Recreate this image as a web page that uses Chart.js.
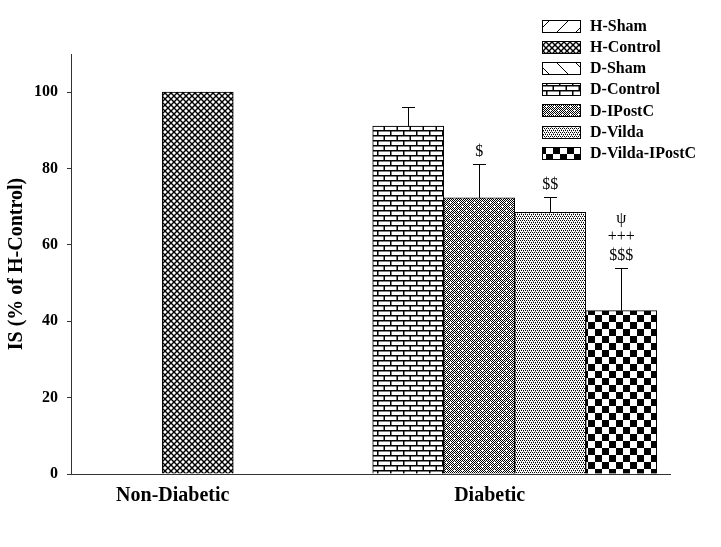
<!DOCTYPE html>
<html lang="en">
<head>
    <meta charset="UTF-8">
    <script src="https://cdn.jsdelivr.net/npm/chart.js"></script>
    <title>IS (% of H-Control)</title>
    <style>
        body { margin: 0; background: #fff; }
        canvas { display: block; }
    </style>
</head>
<body>
<canvas id="chart" width="721" height="547"></canvas>

<script>
    // groups on the x axis and the seven series of the legend
    const groups = ['Non-Diabetic', 'Diabetic'];
    const seriesNames = ['H-Sham', 'H-Control', 'D-Sham', 'D-Control', 'D-IPostC', 'D-Vilda', 'D-Vilda-IPostC'];

    // mean values (% of H-Control), one entry per group
    const hSham = [null, null];
    const hControl = [100, null];
    const dSham = [null, null];
    const dControl = [null, 91.1];
    const dIPostC = [null, 72.3];
    const dVilda = [null, 68.5];
    const dVildaIPostC = [null, 42.8];

    // upper error bars
    const hControlSd = [0, null];
    const dControlSd = [null, 5.0];
    const dIPostCSd = [null, 8.8];
    const dVildaSd = [null, 4.1];
    const dVildaIPostCSd = [null, 11.1];

    // significance marks above the error bars (top line first)
    const dIPostCMarks = [null, ['$']];
    const dVildaMarks = [null, ['$$']];
    const dVildaIPostCMarks = [null, ['\u03C8', '+++', '$$$']];

    const yTicks = [0, 20, 40, 60, 80, 100];

    const canvas = document.getElementById('chart');
    const ctx = canvas.getContext('2d');
    const serif = '"Liberation Serif", "Times New Roman", serif';

    // small tiles used as fill patterns
    function tile(w, h, draw) {
        const c = document.createElement('canvas');
        c.width = w;
        c.height = h;
        const g = c.getContext('2d');
        g.fillStyle = '#fff';
        g.fillRect(0, 0, w, h);
        g.fillStyle = '#000';
        g.strokeStyle = '#000';
        draw(g);
        return ctx.createPattern(c, 'repeat');
    }

    const slashPattern = tile(19, 19, g => {
        g.lineWidth = 1;
        for (const o of [-19, 0, 19]) {
            g.beginPath(); g.moveTo(o, 19); g.lineTo(o + 19, 0); g.stroke();
        }
    });
    const backslashPattern = tile(19, 19, g => {
        g.lineWidth = 1;
        for (const o of [-19, 0, 19]) {
            g.beginPath(); g.moveTo(o, 0); g.lineTo(o + 19, 19); g.stroke();
        }
    });
    const crossPattern = tile(6, 6, g => {
        g.lineWidth = 1.4;
        for (const o of [-6, 0, 6]) {
            g.beginPath(); g.moveTo(o, 0); g.lineTo(o + 6, 6); g.stroke();
            g.beginPath(); g.moveTo(o, 6); g.lineTo(o + 6, 0); g.stroke();
        }
    });
    const brickPattern = tile(13, 10, g => {
        g.fillRect(0, 0, 13, 1.5);
        g.fillRect(0, 5, 13, 1.5);
        g.fillRect(0, 0, 1.5, 5);
        g.fillRect(6.5, 5, 1.5, 5);
    });
    const darkDotPattern = tile(8, 8, g => {
        for (let x = 0; x < 8; x++) {
            for (let y = 0; y < 8; y++) {
                if ((x + y) % 2 === 0) g.fillRect(x, y, 1, 1);
            }
        }
        g.fillStyle = '#fff';
        g.fillRect(2, 1, 1, 3); g.fillRect(1, 2, 3, 1);
        g.fillRect(6, 5, 1, 3); g.fillRect(5, 6, 3, 1);
    });
    const lightDotPattern = tile(4, 4, g => {
        g.fillRect(0, 0, 1, 1); g.fillRect(2, 0, 1, 1);
        g.fillRect(1, 2, 1, 1); g.fillRect(3, 2, 1, 1);
        g.fillStyle = '#888';
        g.fillRect(1, 1, 1, 1); g.fillRect(3, 3, 1, 1);
    });
    const checkerPattern = tile(14, 14, g => {
        g.fillRect(0, 0, 7, 7);
        g.fillRect(7, 7, 7, 7);
    });

    const seriesValues = [hSham, hControl, dSham, dControl, dIPostC, dVilda, dVildaIPostC];
    const seriesSd = [null, hControlSd, null, dControlSd, dIPostCSd, dVildaSd, dVildaIPostCSd];
    const seriesMarks = [null, null, null, null, dIPostCMarks, dVildaMarks, dVildaIPostCMarks];
    const seriesFills = [slashPattern, crossPattern, backslashPattern, brickPattern,
        darkDotPattern, lightDotPattern, checkerPattern];

    const datasets = seriesNames.map((name, i) => ({
        label: name,
        data: seriesValues[i],
        sd: seriesSd[i],
        marks: seriesMarks[i],
        backgroundColor: seriesFills[i],
        borderColor: '#000',
        borderWidth: 1,
        borderSkipped: 'start',
    }));

    // error bars and the $ / + / psi marks
    const errorBars = {
        id: 'errorBars',
        afterDatasetsDraw(chart) {
            const c = chart.ctx;
            const y = chart.scales.y;
            c.save();
            c.strokeStyle = '#000';
            c.lineWidth = 1;
            c.fillStyle = '#000';
            c.font = '16px ' + serif;
            c.textAlign = 'center';
            c.textBaseline = 'middle';
            chart.data.datasets.forEach((ds, i) => {
                const meta = chart.getDatasetMeta(i);
                meta.data.forEach((bar, j) => {
                    const v = ds.data[j];
                    if (v === null || v === undefined) return;
                    const sd = ds.sd ? (ds.sd[j] || 0) : 0;
                    const x = Math.round(bar.x) + 0.5;
                    const top = Math.round(y.getPixelForValue(v + sd)) + 0.5;
                    if (sd > 0) {
                        c.beginPath();
                        c.moveTo(x, bar.y);
                        c.lineTo(x, top);
                        c.moveTo(x - 6.5, top);
                        c.lineTo(x + 6.5, top);
                        c.stroke();
                    }
                    const marks = ds.marks ? ds.marks[j] : null;
                    if (marks) {
                        marks.slice().reverse().forEach((m, k) => {
                            c.fillText(m, bar.x, top - 13 - k * 18.5);
                        });
                    }
                });
            });
            c.restore();
        }
    };

    // legend box in the upper right corner
    const patternLegend = {
        id: 'patternLegend',
        afterDraw(chart) {
            const c = chart.ctx;
            c.save();
            c.font = 'bold 16px ' + serif;
            c.textAlign = 'left';
            c.textBaseline = 'middle';
            chart.data.datasets.forEach((ds, i) => {
                const cy = 26 + i * 21.1;
                const top = Math.round(cy - 6) + 0.5;
                c.fillStyle = ds.backgroundColor;
                c.fillRect(542.5, top, 38, 12);
                c.strokeStyle = '#000';
                c.lineWidth = 1;
                c.strokeRect(542.5, top, 38, 12);
                c.fillStyle = '#000';
                c.fillText(ds.label, 590, cy + 1);
            });
            c.restore();
        }
    };

    new Chart(ctx, {
        type: 'bar',
        data: {
            labels: groups.map((g, i) => i),
            datasets: datasets,
        },
        options: {
            responsive: false,
            animation: false,
            barThickness: 71,
            skipNull: true,
            layout: {
                padding: { left: 0, right: 51, top: 54, bottom: 0 }
            },
            plugins: {
                legend: { display: false },
                tooltip: { enabled: false },
            },
            scales: {
                x: {
                    type: 'linear',
                    min: -0.4,
                    max: 1.49,
                    offset: false,
                    grid: { display: false, offset: false },
                    border: { display: true, color: '#333', width: 1 },
                    afterBuildTicks: (scale) => {
                        scale.ticks = groups.map((g, i) => ({ value: i }));
                    },
                    afterFit: (scale) => { scale.height = 73; },
                    ticks: {
                        autoSkip: false,
                        maxRotation: 0,
                        padding: 2,
                        labelOffset: -25,
                        color: '#000',
                        font: { family: serif, size: 20, weight: 'bold' },
                        callback: (value) => groups[value],
                    },
                },
                y: {
                    min: 0,
                    max: 110,
                    grid: {
                        drawOnChartArea: false,
                        drawTicks: true,
                        tickLength: 4,
                        color: '#333',
                    },
                    border: { display: true, color: '#333', width: 1 },
                    afterBuildTicks: (scale) => {
                        scale.ticks = yTicks.map(v => ({ value: v }));
                    },
                    afterFit: (scale) => { scale.width = 71; },
                    ticks: {
                        padding: 9,
                        color: '#000',
                        font: { family: serif, size: 16, weight: 'bold' },
                    },
                    title: {
                        display: true,
                        text: 'IS (% of H-Control)',
                        color: '#000',
                        padding: { top: 5, bottom: 0 },
                        font: { family: serif, size: 20, weight: 'bold' },
                    },
                },
            },
        },
        plugins: [errorBars, patternLegend],
    });
</script>
</body>
</html>
